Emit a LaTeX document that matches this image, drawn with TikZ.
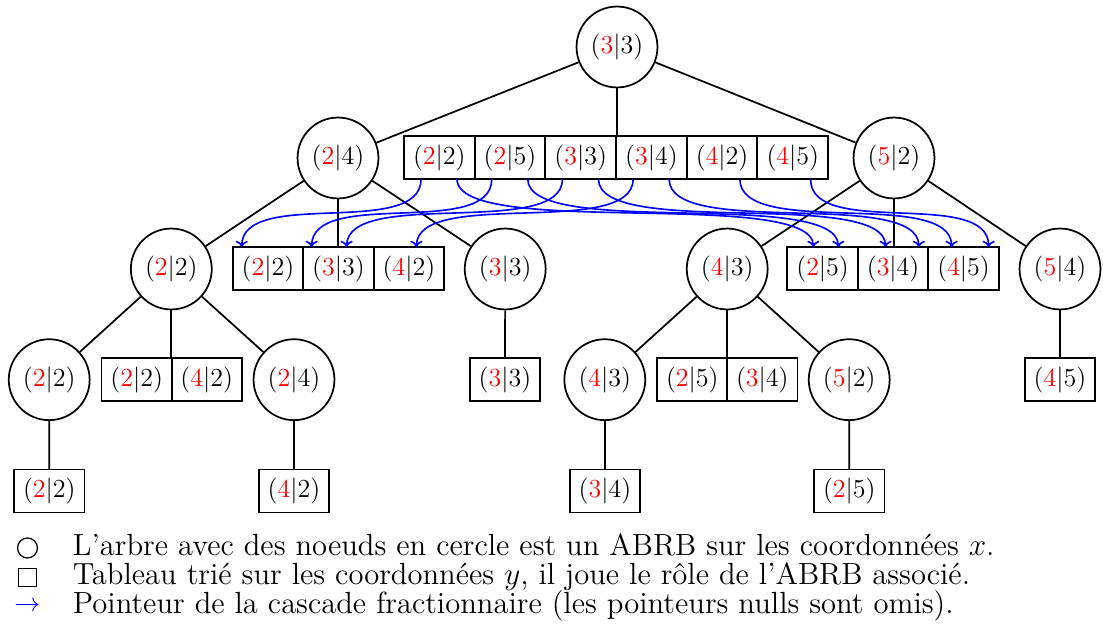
\documentclass[tikz,border=0pt]{standalone}
\usepackage{amssymb}
\usetikzlibrary{calc,arrows.meta}
% a point: red first coordinate, black second coordinate
\newcommand\pp[2]{$(\textcolor{red}{#1}|#2)$}
\newcommand\ptfont{\fontsize{13.2}{16}\selectfont}
\newcommand\legfont{\fontsize{14.1}{17}\selectfont}
\begin{document}
\begin{tikzpicture}[x=0.461pt,y=-0.461pt,
  line width=0.8pt,
  treenode/.style={circle,draw,minimum size=37.3pt,inner sep=0pt,font=\ptfont},
  cell/.style={rectangle,draw,minimum width=32.5pt,minimum height=19.8pt,inner sep=0pt,outer sep=0pt,font=\ptfont},
  ptr/.style={-{To[width=5.6pt,length=3pt]},blue,line width=0.75pt},
  legtext/.style={anchor=base west,inner sep=0pt,font=\legfont}]
\useasboundingbox (0,0) rectangle (1103,629);

% ---- x-tree (circles) ----
\node[treenode] (r)   at (617,47)      {\pp33};
\node[treenode] (a)   at (338,158)     {\pp24};
\node[treenode] (b)   at (894,158)     {\pp52};
\node[treenode] (c22) at (171.3,269)   {\pp22};
\node[treenode] (c33) at (505.2,269)   {\pp33};
\node[treenode] (c43) at (727.2,269)   {\pp43};
\node[treenode] (c54) at (1060,269)    {\pp54};
\node[treenode] (d22) at (49.2,379.7)  {\pp22};
\node[treenode] (d24) at (294,379.7)   {\pp24};
\node[treenode] (d43) at (604.8,379.7) {\pp43};
\node[treenode] (d52) at (849.2,379.7) {\pp52};

% ---- sorted arrays (squares) ----
\node[cell] (t1) at (439.3,157.7) {\pp22};
\node[cell] (t2) at (510.0,157.7) {\pp25};
\node[cell] (t3) at (580.7,157.7) {\pp33};
\node[cell] (t4) at (651.4,157.7) {\pp34};
\node[cell] (t5) at (722.1,157.7) {\pp42};
\node[cell] (t6) at (792.8,157.7) {\pp45};

\node[cell] (l1) at (268.0,268.7) {\pp22};
\node[cell] (l2) at (338.5,268.7) {\pp33};
\node[cell] (l3) at (409.0,268.7) {\pp42};

\node[cell] (q1) at (822.6,268.7) {\pp25};
\node[cell] (q2) at (893.1,268.7) {\pp34};
\node[cell] (q3) at (963.6,268.7) {\pp45};

\node[cell] (m1) at (136.7,379.7) {\pp22};
\node[cell] (m2) at (206.7,379.7) {\pp42};
\node[cell] (s33) at (505,379.7)  {\pp33};
\node[cell] (n1) at (692.3,379.7) {\pp25};
\node[cell] (n2) at (762.3,379.7) {\pp34};
\node[cell] (s45) at (1060,379.7) {\pp45};

\node[cell] (e22) at (49.3,491)  {\pp22};
\node[cell] (e42) at (294,491)   {\pp42};
\node[cell] (e34) at (605,491)   {\pp34};
\node[cell] (e25) at (849.3,491) {\pp25};

% ---- tree edges ----
\draw (r) -- (a);
\draw (r) -- (r |- t4.north);
\draw (r) -- (b);
\draw (a) -- (c22);
\draw (a) -- (a |- l2.north);
\draw (a) -- (c33);
\draw (b) -- (c43);
\draw (b) -- (b |- q2.north);
\draw (b) -- (c54);
\draw (c22) -- (d22);
\draw (c22) -- (c22 |- m1.north);
\draw (c22) -- (d24);
\draw (c33) -- (s33);
\draw (c43) -- (d43);
\draw (c43) -- (c43 |- n1.north);
\draw (c43) -- (d52);
\draw (c54) -- (s45);
\draw (d22) -- (e22);
\draw (d24) -- (e42);
\draw (d43) -- (e34);
\draw (d52) -- (e25);

% ---- fractional cascading pointers ----
\foreach \src/\dst/\off in {t1/l1/9, t2/l2/8.4, t3/l2/43.4, t4/l3/42.7}
  \draw[ptr] ($(\src.south west)+(17,0)$) .. controls +(0,60) and +(0,-60) .. ($(\dst.north west)+(\off,0)$);
\foreach \src/\dst/\off in {t1/q1/26, t2/q1/51, t3/q2/27.7, t4/q2/61, t5/q3/23.3, t6/q3/60.3}
  \draw[ptr] ($(\src.south east)+(-17.5,0)$) .. controls +(0,60) and +(0,-60) .. ($(\dst.north west)+(\off,0)$);

% ---- legend ----
\node[circle,draw,line width=0.6pt,minimum size=9.2pt,inner sep=0pt] (k1) at (27.5,548) {};
\node[rectangle,draw,line width=0.6pt,minimum size=8pt,inner sep=0pt] (k2) at (27.5,577.5) {};
\node[inner sep=0pt,font=\fontsize{12}{14}\selectfont] (k3) at (27.5,607) {\textcolor{blue}{$\rightarrow$}};
\node[legtext] (g1) at (72,556) {L'arbre avec des noeuds en cercle est un ABRB sur les coordonnées $x$.};
\node[legtext] (g2) at (72,585) {Tableau trié sur les coordonnées $y$, il joue le rôle de l'ABRB associé.};
\node[legtext] (g3) at (72,614) {Pointeur de la cascade fractionnaire (les pointeurs nulls sont omis).};
\end{tikzpicture}
\end{document}
